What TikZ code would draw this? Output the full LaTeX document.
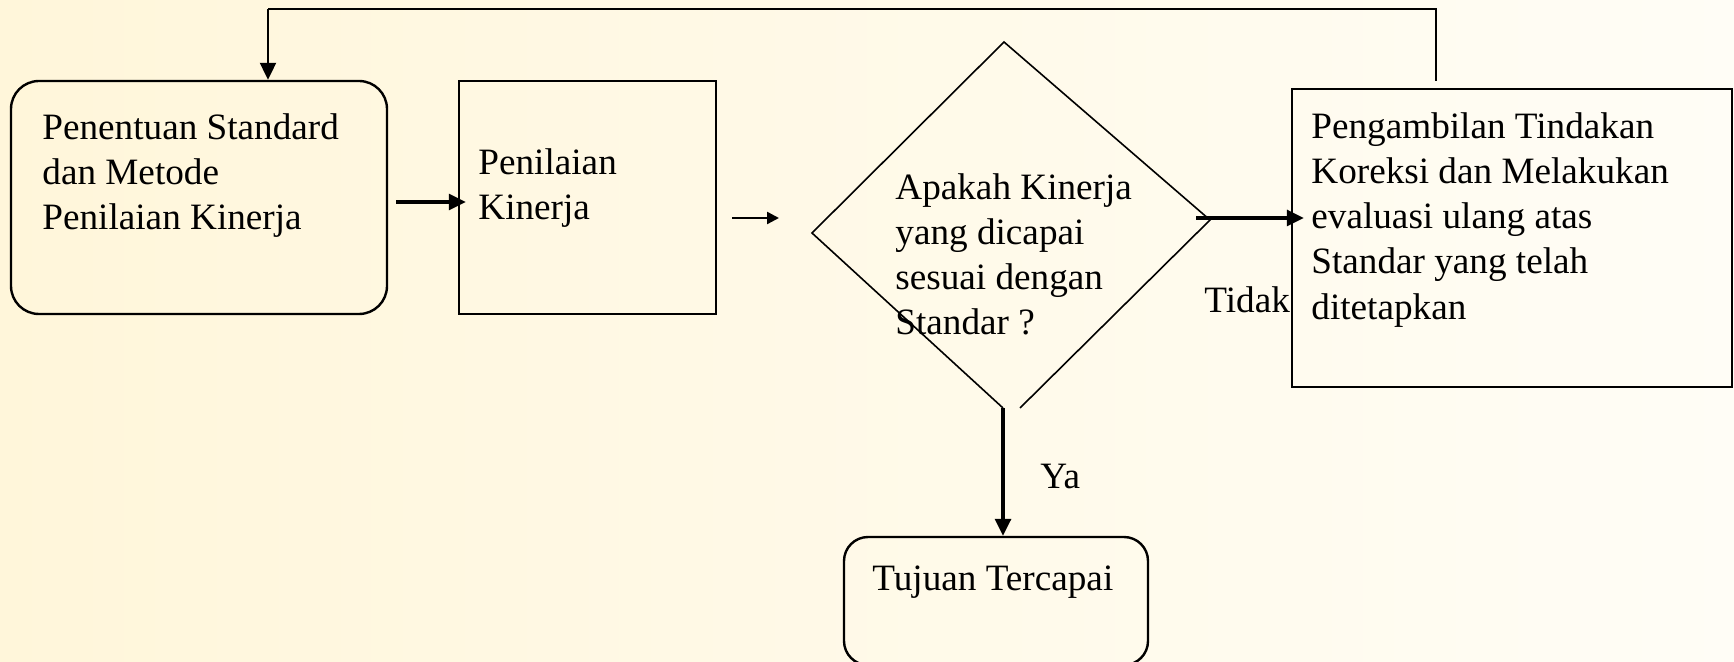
\documentclass[tikz,border=0pt]{standalone}
\usepackage{fontspec}
\setmainfont{Liberation Serif}
\usetikzlibrary{arrows.meta,calc}
\newcommand\fsz{\fontsize{18.6}{22.6}\selectfont}
\definecolor{bgleft}{RGB}{255,246,218}
\definecolor{bgright}{RGB}{255,253,246}
\tikzset{
  boxshape/.style={draw, line width=1.2pt, inner sep=0pt},
  txt/.style={font=\fsz, align=left, inner sep=0pt, anchor=north west},
  lbl/.style={font=\fsz, inner sep=0pt, anchor=base west},
  arr/.style={-{Triangle[length=8.5pt,width=8pt]}, line width=1.6pt},
  smallarr/.style={-{Triangle[length=6pt,width=6pt]}, line width=1.2pt},
  feed/.style={line width=1.1pt},
  dia/.style={line width=0.8pt},
}
\begin{document}
\begin{tikzpicture}[x=0.5pt,y=-0.5pt]
\shade[left color=bgleft, right color=bgright] (0,0) rectangle (1734,662);
\useasboundingbox (0,0) rectangle (1734,662);

% boxes
\node[boxshape, rounded corners=14pt, minimum width=188pt, minimum height=116.5pt] (box1) at (199,197.5) {};
\node[boxshape, minimum width=128.5pt, minimum height=116.5pt] (box2) at (587.5,197.5) {};
\node[boxshape, minimum width=220pt, minimum height=149pt] (box4) at (1512,238) {};
\node[boxshape, rounded corners=12pt, minimum width=152pt, minimum height=64pt] (box5) at (996,601) {};

% diamond
\coordinate (dT) at (1004,42);
\coordinate (dR) at (1210,220);
\coordinate (dL) at (812,233);
\coordinate (dB) at (1003,408);
\coordinate (dRe) at (1020,408);
\draw[dia] (dRe) -- (dR) -- (dT) -- (dL) -- (dB);

% texts
\node[txt] (t1) at (42,113) {Penentuan Standard\\dan Metode\\Penilaian Kinerja};
\node[txt] (t2) at (478,148) {Penilaian\\Kinerja};
\node[txt] (t3) at (895,173) {Apakah Kinerja\\yang dicapai\\sesuai dengan\\Standar ?};
\node[txt] (t4) at (1311,112) {Pengambilan Tindakan\\Koreksi dan Melakukan\\evaluasi ulang atas\\Standar yang telah\\ditetapkan};
\node[lbl] (t5) at (872,590) {Tujuan Tercapai};
\node[lbl] (tidak) at (1204,313) {Tidak};
\node[lbl] (ya) at (1040,488) {Ya};

% connectors
\coordinate (a1s) at (396,202);
\draw[arr] (a1s) -- ($(a1s -| box2.west)+(8,0)$);
\coordinate (a2s) at (732,218);
\coordinate (a2e) at (779,218);
\draw[smallarr] (a2s) -- (a2e);
\coordinate (ts) at (1196,218);
\draw[arr] (ts) -- ($(ts -| box4.west)+(13,0)$);
\draw[arr] (dB) -- (dB |- box5.north);
\coordinate (fbR) at (1436,81);
\coordinate (fbL) at (268,9);
\draw[feed] (fbR) |- (fbL);
\draw[arr, line width=1.1pt] (fbL) -- (fbL |- box1.north);
\end{tikzpicture}
\end{document}
